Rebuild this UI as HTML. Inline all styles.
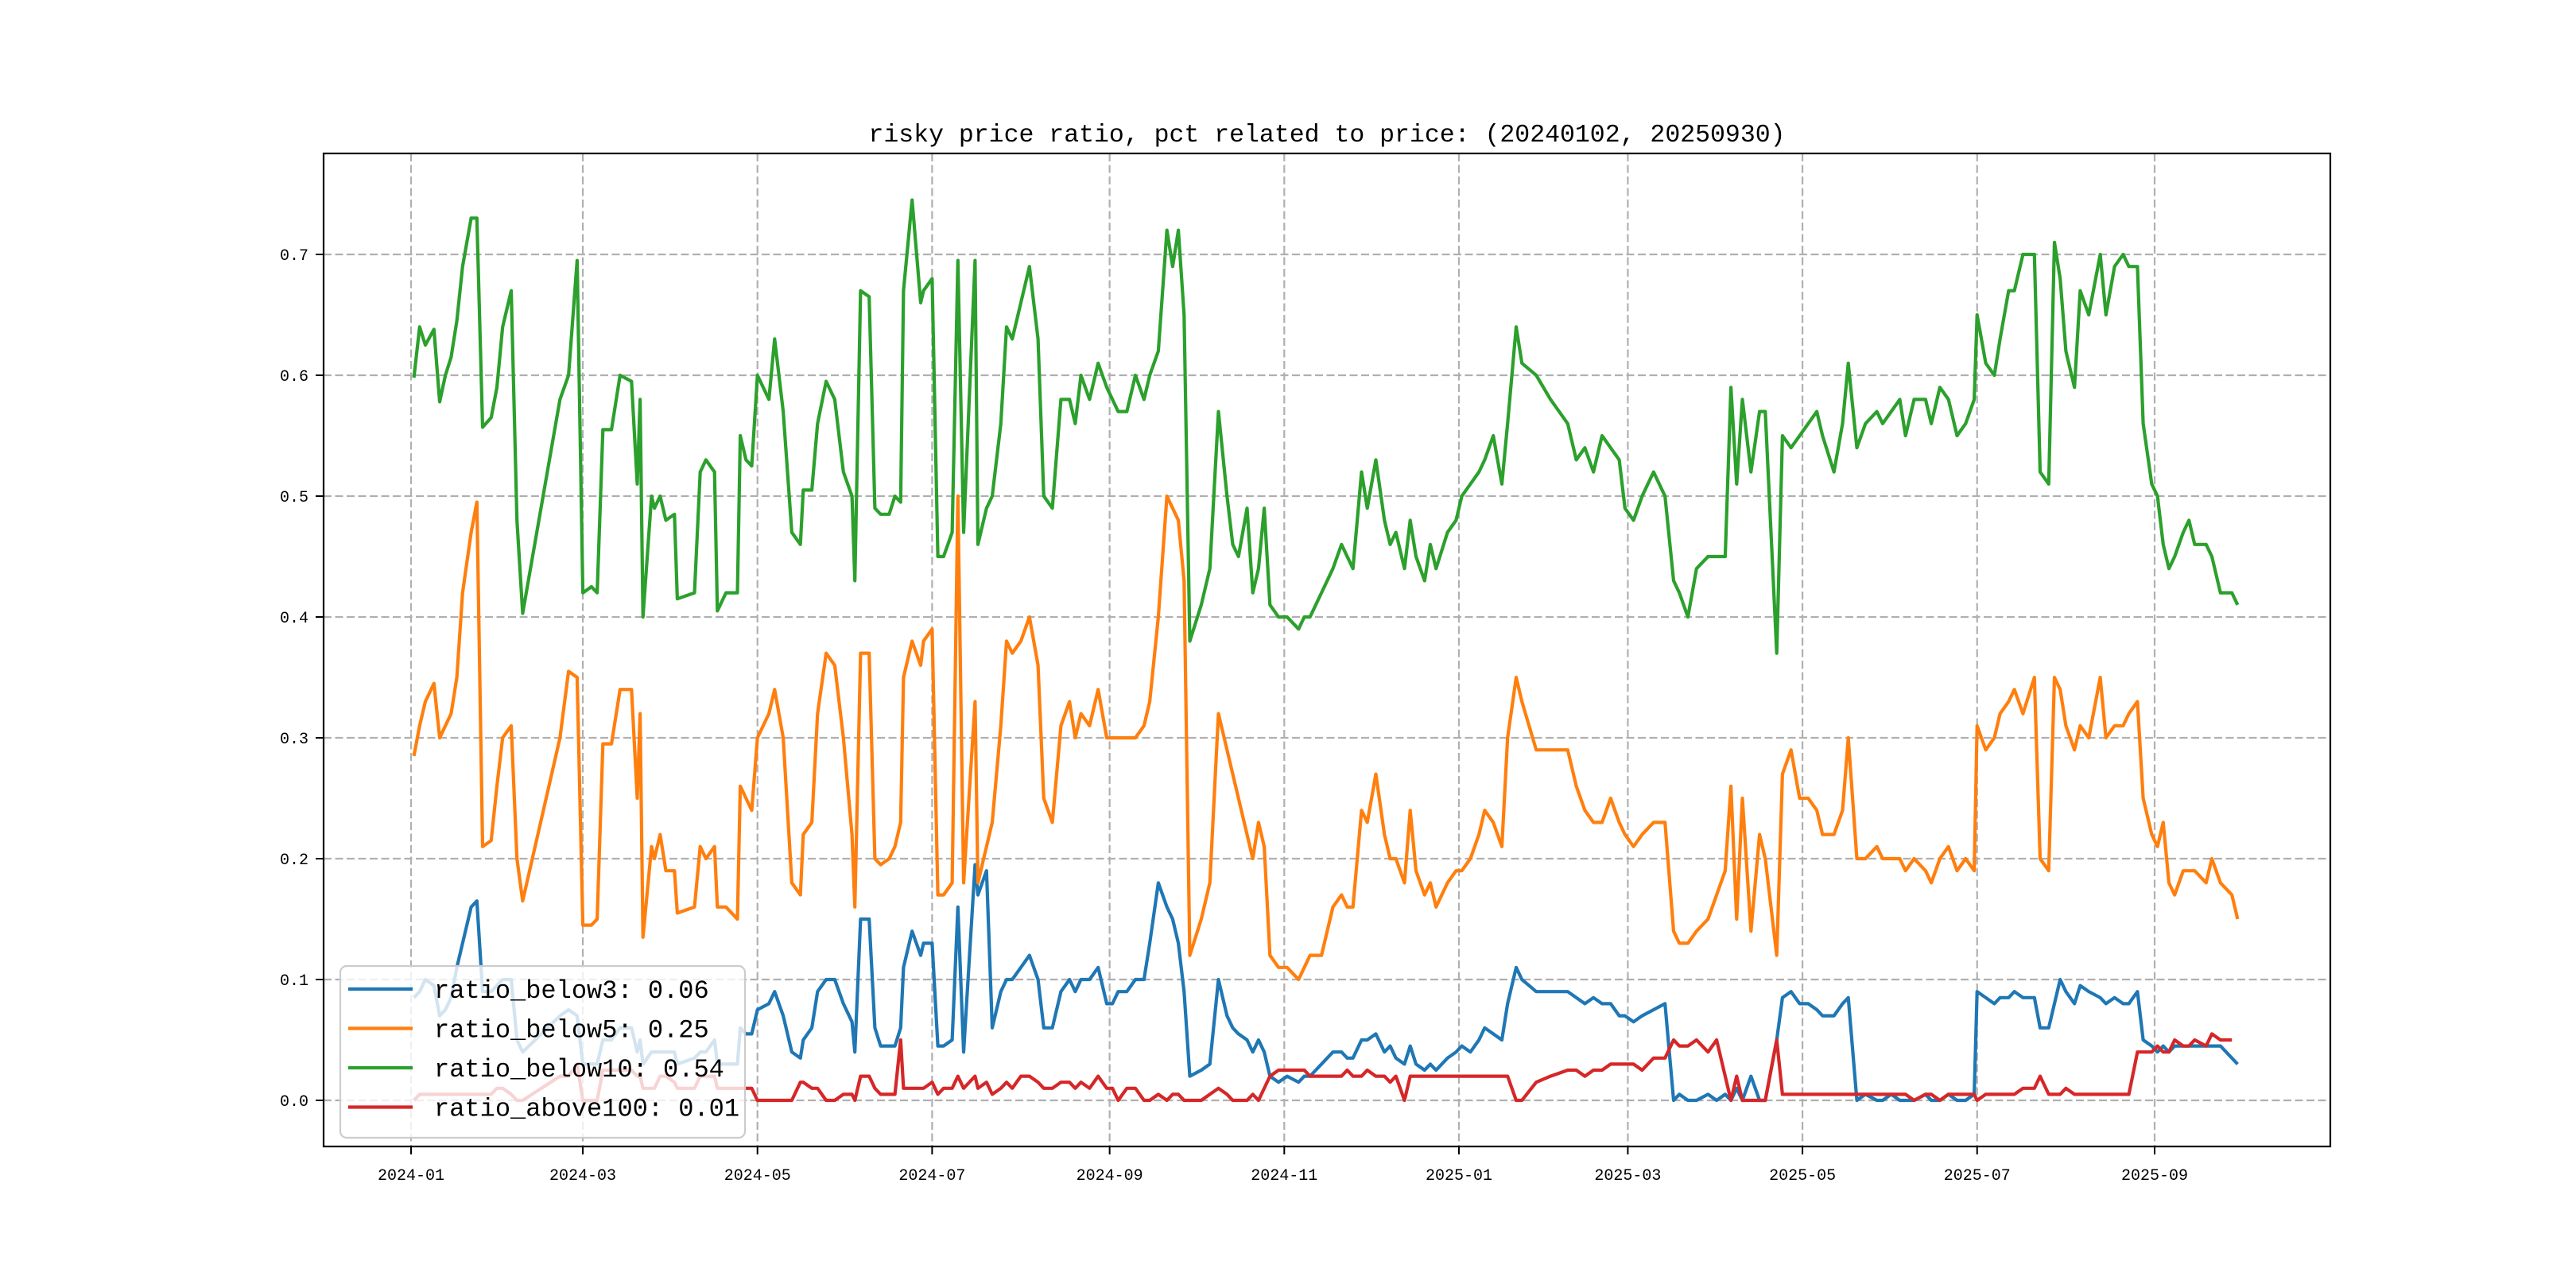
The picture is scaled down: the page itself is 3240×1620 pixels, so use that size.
<!DOCTYPE html>
<html><head><meta charset="utf-8"><style>
html,body{margin:0;padding:0;background:#fff;}
svg{display:block;}
text{font-family:"Liberation Mono","Noto Sans CJK SC",monospace;fill:#000;}
</style></head><body>
<svg id="chart" width="3240" height="1620" viewBox="0 0 3240 1620" xmlns="http://www.w3.org/2000/svg">
<rect x="0" y="0" width="3240" height="1620" fill="#fff"/>
<text x="1669" y="178" font-size="31.5" text-anchor="middle">risky price ratio, pct related to price: (20240102, 20250930)</text>
<g id="grid"></g>
<g id="series"></g>
<rect x="407" y="193" width="2524" height="1249" fill="none" stroke="#000" stroke-width="2.2"/>
<g id="axes"></g>
<g id="legend"></g>
</svg>
<script>
// days since 2024-01-01
const days = [1,3,5,8,10,12,14,16,18,21,23,25,28,30,32,35,37,39,52,55,58,60,63,65,67,70,73,77,79,80,81,84,85,87,89,92,93,99,101,103,106,107,110,114,115,117,119,121,125,127,130,133,136,137,140,142,145,148,151,154,155,157,160,162,164,167,169,171,172,175,178,179,182,184,186,189,191,193,197,198,201,203,206,208,210,213,216,219,221,224,227,230,232,234,237,240,243,245,247,250,253,256,258,261,264,266,268,270,272,276,279,282,285,287,289,292,294,296,298,300,303,306,310,312,314,318,322,325,327,329,332,334,337,340,342,344,347,349,351,354,356,358,362,365,367,370,373,375,378,381,383,386,388,393,398,404,407,410,413,416,419,422,424,427,430,434,438,441,443,446,449,453,456,459,461,463,465,468,471,473,477,479,482,485,488,491,493,497,500,502,505,508,512,514,517,520,522,525,529,531,534,537,540,543,546,547,550,553,555,558,560,563,567,569,572,574,576,578,581,583,586,590,592,595,598,600,603,605,608,610,612,614,616,619,621,623,627,629,632,636,638];
const below3 = [.085,.09,.10,.095,.07,.075,.085,.11,.13,.16,.165,.09,.09,.095,.10,.10,.05,.04,.07,.075,.07,.03,.03,.03,.05,.05,.06,.06,.04,.05,.03,.04,.04,.04,.04,.04,.03,.035,.04,.04,.05,.03,.03,.03,.06,.055,.055,.075,.08,.09,.07,.04,.035,.05,.06,.09,.10,.10,.08,.065,.04,.15,.15,.06,.045,.045,.045,.06,.11,.14,.12,.13,.13,.045,.045,.05,.16,.04,.195,.17,.19,.06,.09,.10,.10,.11,.12,.10,.06,.06,.09,.10,.09,.10,.10,.11,.08,.08,.09,.09,.10,.10,.13,.18,.16,.15,.13,.09,.02,.025,.03,.10,.07,.06,.055,.05,.04,.05,.04,.02,.015,.02,.015,.02,.02,.03,.04,.04,.035,.035,.05,.05,.055,.04,.045,.035,.03,.045,.03,.025,.03,.025,.035,.04,.045,.04,.05,.06,.055,.05,.08,.11,.10,.09,.09,.09,.085,.08,.085,.08,.08,.07,.07,.065,.07,.075,.08,.00,.005,.00,.00,.005,.00,.005,.00,.01,.00,.02,.00,.00,.05,.085,.09,.08,.08,.075,.07,.07,.08,.085,.00,.005,.00,.00,.005,.00,.00,.00,.005,.00,.00,.005,.00,.00,.005,.09,.085,.08,.085,.085,.09,.085,.085,.06,.06,.08,.10,.09,.08,.095,.09,.085,.08,.085,.08,.08,.09,.05,.045,.04,.045,.04,.045,.045,.045,.045,.045,.045,.045,.035,.03];
const below5 = [.285,.31,.33,.345,.30,.31,.32,.35,.42,.47,.495,.21,.215,.26,.30,.31,.20,.165,.30,.355,.35,.145,.145,.15,.295,.295,.34,.34,.25,.32,.135,.21,.20,.22,.19,.19,.155,.16,.21,.20,.21,.16,.16,.15,.26,.25,.24,.30,.32,.34,.30,.18,.17,.22,.23,.32,.37,.36,.30,.22,.16,.37,.37,.20,.195,.20,.21,.23,.35,.38,.36,.38,.39,.17,.17,.18,.50,.18,.33,.18,.21,.23,.31,.38,.37,.38,.40,.36,.25,.23,.31,.33,.30,.32,.31,.34,.30,.30,.30,.30,.30,.31,.33,.40,.50,.49,.48,.43,.12,.15,.18,.32,.29,.27,.25,.22,.20,.23,.21,.12,.11,.11,.10,.11,.12,.12,.16,.17,.16,.16,.24,.23,.27,.22,.20,.20,.18,.24,.19,.17,.18,.16,.18,.19,.19,.20,.22,.24,.23,.21,.30,.35,.33,.29,.29,.29,.26,.24,.23,.23,.25,.23,.22,.21,.22,.23,.23,.14,.13,.13,.14,.15,.17,.19,.26,.15,.25,.14,.22,.20,.12,.27,.29,.25,.25,.24,.22,.22,.24,.30,.20,.20,.21,.20,.20,.20,.19,.20,.19,.18,.20,.21,.19,.20,.19,.31,.29,.30,.32,.33,.34,.32,.35,.20,.19,.35,.34,.31,.29,.31,.30,.35,.30,.31,.31,.32,.33,.25,.22,.21,.23,.18,.17,.19,.19,.19,.18,.20,.18,.17,.15];
const below10 = [.598,.64,.625,.638,.578,.60,.615,.645,.69,.73,.73,.557,.565,.59,.64,.67,.48,.403,.58,.60,.695,.42,.425,.42,.555,.555,.60,.595,.51,.58,.40,.50,.49,.50,.48,.485,.415,.42,.52,.53,.52,.405,.42,.42,.55,.53,.525,.60,.58,.63,.57,.47,.46,.505,.505,.56,.595,.58,.52,.50,.43,.67,.665,.49,.485,.485,.50,.495,.67,.745,.66,.67,.68,.45,.45,.47,.695,.47,.695,.46,.49,.50,.56,.64,.63,.66,.69,.63,.50,.49,.58,.58,.56,.60,.58,.61,.59,.58,.57,.57,.60,.58,.60,.62,.72,.69,.72,.65,.38,.41,.44,.57,.50,.46,.45,.49,.42,.44,.49,.41,.40,.40,.39,.40,.40,.42,.44,.46,.45,.44,.52,.49,.53,.48,.46,.47,.44,.48,.45,.43,.46,.44,.47,.48,.50,.51,.52,.53,.55,.51,.56,.64,.61,.60,.58,.56,.53,.54,.52,.55,.54,.53,.49,.48,.50,.52,.50,.43,.42,.40,.44,.45,.45,.45,.59,.51,.58,.52,.57,.57,.37,.55,.54,.55,.56,.57,.55,.52,.56,.61,.54,.56,.57,.56,.57,.58,.55,.58,.58,.56,.59,.58,.55,.56,.58,.65,.61,.60,.63,.67,.67,.70,.70,.52,.51,.71,.68,.62,.59,.67,.65,.70,.65,.69,.70,.69,.69,.56,.51,.50,.46,.44,.45,.47,.48,.46,.46,.45,.42,.42,.41];
const above100 = [.00,.005,.005,.005,.005,.005,.005,.005,.005,.005,.005,.005,.005,.01,.01,.005,.00,.00,.02,.02,.03,.00,.00,.00,.025,.025,.025,.025,.02,.02,.01,.01,.01,.02,.02,.015,.01,.01,.02,.02,.02,.01,.01,.01,.01,.01,.01,.00,.00,.00,.00,.00,.015,.015,.01,.01,.00,.00,.005,.005,.00,.02,.02,.01,.005,.005,.005,.05,.01,.01,.01,.01,.015,.005,.01,.01,.02,.01,.02,.01,.015,.005,.01,.015,.01,.02,.02,.015,.01,.01,.015,.015,.01,.015,.01,.02,.01,.01,.00,.01,.01,.00,.00,.005,.00,.005,.005,.00,.00,.00,.005,.01,.005,.00,.00,.00,.005,.00,.01,.02,.025,.025,.025,.025,.02,.02,.02,.02,.025,.02,.02,.025,.02,.02,.015,.02,.00,.02,.02,.02,.02,.02,.02,.02,.02,.02,.02,.02,.02,.02,.02,.00,.00,.015,.02,.025,.025,.02,.025,.025,.03,.03,.03,.03,.025,.035,.035,.05,.045,.045,.05,.04,.05,.02,.00,.02,.00,.00,.00,.00,.05,.005,.005,.005,.005,.005,.005,.005,.005,.005,.005,.005,.005,.005,.005,.005,.005,.00,.005,.005,.00,.005,.005,.005,.005,.00,.005,.005,.005,.005,.005,.01,.01,.02,.005,.005,.005,.01,.005,.005,.005,.005,.005,.005,.005,.005,.04,.04,.04,.045,.04,.04,.05,.045,.045,.05,.045,.055,.05,.05];
const seriesNames = ["ratio_below3","ratio_below5","ratio_below10","ratio_above100"];
const legendValues = ["0.06","0.25","0.54","0.01"];
const yTicks = [0,0.1,0.2,0.3,0.4,0.5,0.6,0.7];
const yTickLabels = ["0.0","0.1","0.2","0.3","0.4","0.5","0.6","0.7"];
const xTickDays = [0,60,121,182,244,305,366,425,486,547,609];
const xTickLabels = ["2024-01","2024-03","2024-05","2024-07","2024-09","2024-11","2025-01","2025-03","2025-05","2025-07","2025-09"];

const NS="http://www.w3.org/2000/svg";
const PX0=407,PX1=2931,PY0=193,PY1=1442;
function xs(d){return 517+d*3.601;}
function ys(v){return 1384-v*1520;}
function mk(tag,attrs,parent){const e=document.createElementNS(NS,tag);for(const k in attrs)e.setAttribute(k,attrs[k]);parent.appendChild(e);return e;}
const grid=document.getElementById('grid'),axes=document.getElementById('axes'),ser=document.getElementById('series'),leg=document.getElementById('legend');
yTicks.forEach((v,i)=>{
  const y=ys(v);
  const g=mk('line',{x1:PX0,x2:PX1,y1:y,y2:y,stroke:'#b0b0b0','stroke-width':2.2,'stroke-dasharray':'10,4.5'},grid);
  
  
  const t=mk('line',{x1:PX0-10,x2:PX0,y1:y,y2:y,stroke:'#000','stroke-width':2},axes);
  
  
  const l=mk('text',{x:388,y:y+7,'font-size':20,'text-anchor':'end'},axes);
  l.textContent=yTickLabels[i];
  
  
});
xTickDays.forEach((d,i)=>{
  const x=xs(d);
  const g=mk('line',{x1:x,x2:x,y1:PY0,y2:PY1,stroke:'#b0b0b0','stroke-width':2.2,'stroke-dasharray':'10,4.5'},grid);
  
  
  const t=mk('line',{x1:x,x2:x,y1:PY1,y2:PY1+10,stroke:'#000','stroke-width':2},axes);
  
  
  const l=mk('text',{x:x,y:1484,'font-size':20,'text-anchor':'middle'},axes);
  l.textContent=xTickLabels[i];
  
  
});
const colors=["#1f77b4","#ff7f0e","#2ca02c","#d62728"];
const data=[below3,below5,below10,above100];
data.forEach((arr,si)=>{
  const pts=arr.map((v,i)=>xs(days[i]).toFixed(1)+','+ys(v).toFixed(1)).join(' ');
  const p=mk('polyline',{points:pts,fill:'none',stroke:colors[si],'stroke-width':4.2,'stroke-linejoin':'round'},ser);
  
  
});
const box=mk('rect',{x:428,y:1215,width:509,height:216,rx:8,fill:'#fff','fill-opacity':0.8,stroke:'#cccccc','stroke-width':2.2},leg);


seriesNames.forEach((n,i)=>{
  const y=1244+i*49.5;
  const ln=mk('line',{x1:438,x2:519,y1:y,y2:y,stroke:colors[i],'stroke-width':4.2},leg);
  
  
  const t=mk('text',{x:546,y:y+11,'font-size':32},leg);
  t.textContent=n+': '+legendValues[i];
  
  
});
</script>
</body></html>
